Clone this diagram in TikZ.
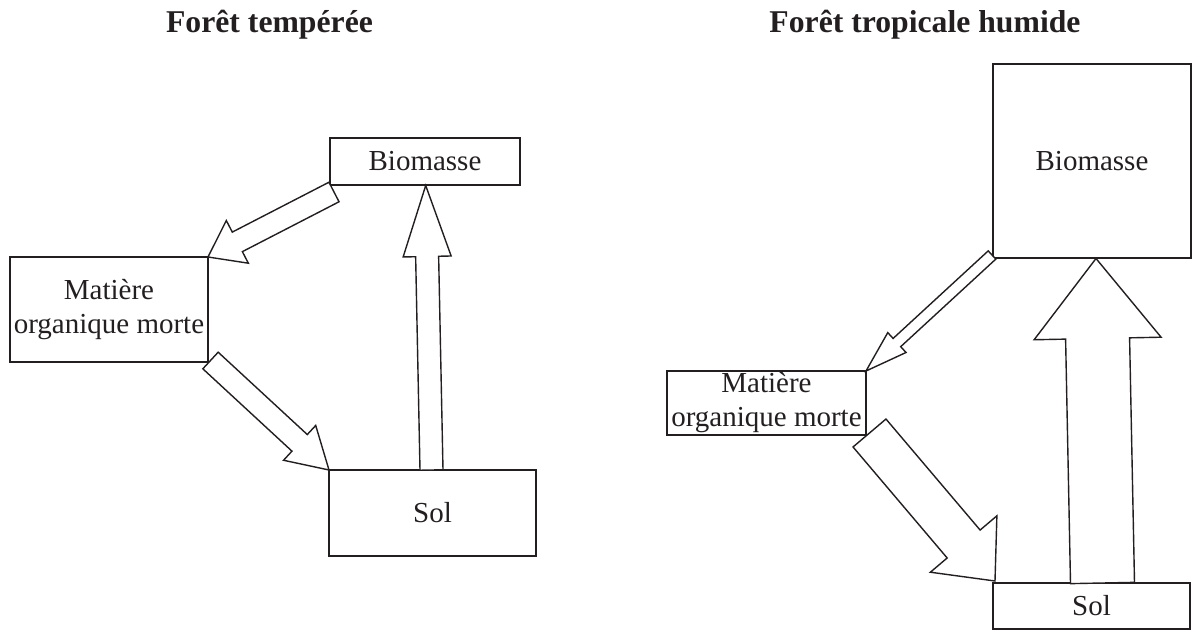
\documentclass[tikz,border=0pt]{standalone}
\usepackage{fontspec}
\setmainfont{Liberation Serif}
\usetikzlibrary{calc}
\definecolor{ink}{RGB}{35,31,32}
\tikzset{
  box/.style={draw=ink, line width=1.4pt, inner sep=0pt, outer sep=0pt, text=ink,
    font=\fontsize{29}{34}\selectfont, align=center},
  blockarrow/.style={draw=ink, line width=1.4pt, fill=white},
  titletext/.style={text=ink, font=\fontsize{31.7}{36}\selectfont\bfseries, inner sep=0pt, anchor=base}
}
\newcommand{\fatarrow}[5]{%
  \coordinate (fah) at ($(#2)!#5!(#1)$);
  \draw[blockarrow] ($(#1)!#3!90:(#2)$) -- ($(fah)!#3!90:(#2)$) -- ($(fah)!#4!90:(#2)$) -- (#2)
    -- ($(fah)!#4!-90:(#2)$) -- ($(fah)!#3!-90:(#2)$) -- ($(#1)!#3!-90:(#2)$) -- cycle;
}
\begin{document}
\begin{tikzpicture}[x=1pt,y=-1pt]
\useasboundingbox (0,0) rectangle (1192,631);
% titles
\node[titletext] (t1) at (269.5,33) {Forêt tempérée};
\node[titletext] (t2) at (925,33) {Forêt tropicale humide};
% left diagram
\node[box, minimum width=190pt, minimum height=47pt] (bio1) at (425,161.5) {Biomasse};
\node[box, minimum width=198pt, minimum height=105pt] (mat1) at (109,309.5) {Matière\\organique morte};
\node[box, minimum width=207pt, minimum height=86pt] (sol1) at (432.5,513) {Sol};
% right diagram
\node[box, minimum width=198pt, minimum height=194pt] (bio2) at (1092,161) {Biomasse};
\node[box, minimum width=199pt, minimum height=64pt] (mat2) at (766.5,403) {Matière\\organique morte};
\node[box, minimum width=197pt, minimum height=46pt] (sol2) at (1091.5,606) {Sol};
% arrow end points
\coordinate (a1t) at (334,192);
\coordinate (a1h) at (mat1.north east);
\coordinate (a2t) at (210.5,360.5);
\coordinate (a2h) at (sol1.north west);
\coordinate (a3t) at (431.5,470);
\coordinate (a3h) at (425.7,185.5);
\coordinate (a4t) at (992,255);
\coordinate (a4h) at (mat2.north east);
\coordinate (a5t) at (869.5,433);
\coordinate (a5h) at (995,581);
\coordinate (a6t) at (1102.5,583);
\coordinate (a6h) at (1096,258.5);
% block arrows
\fatarrow{a1t}{a1h}{11pt}{24pt}{33pt}
\fatarrow{a2t}{a2h}{11.3pt}{23.7pt}{40pt}
\fatarrow{a3t}{a3h}{11.5pt}{24pt}{71pt}
\fatarrow{a4t}{a4h}{5.6pt}{13.5pt}{42pt}
\fatarrow{a5t}{a5h}{21.6pt}{43.6pt}{48.5pt}
\fatarrow{a6t}{a6h}{32pt}{63.5pt}{80pt}
\end{tikzpicture}
\end{document}
